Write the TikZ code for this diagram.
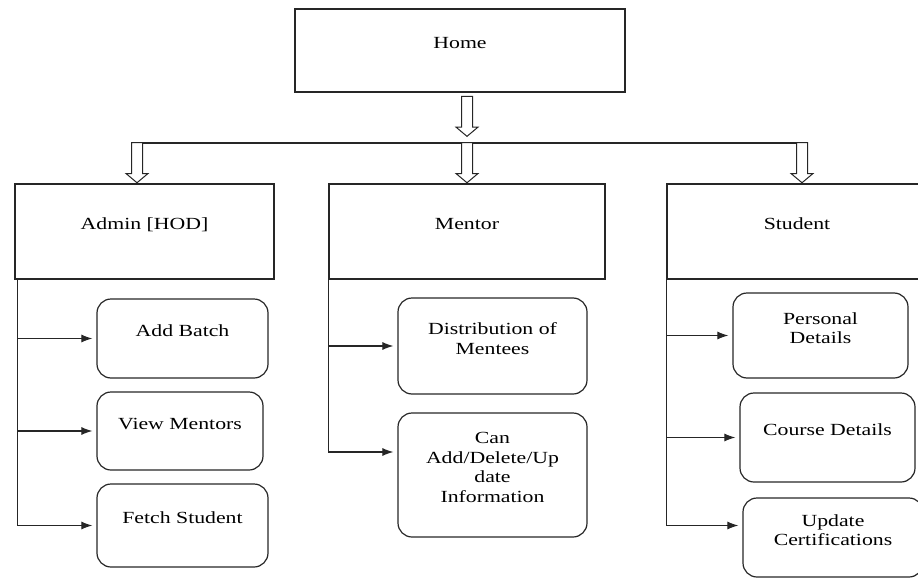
\documentclass[tikz,border=0pt]{standalone}
\usepackage{fontspec}
\setmainfont[FakeStretch=1.28]{Liberation Serif}
\usepackage{tikz}
\usetikzlibrary{shapes, shapes.arrows, arrows.meta, positioning}

\begin{document}
\begin{tikzpicture}[x=1pt, y=-1pt,
        box/.style={draw=black!85, line width=1.2pt, align=center, inner sep=2pt,
            font=\fontsize{17}{19.5}\selectfont,
            execute at end node={\rule[-15pt]{0pt}{15pt}}},
        rbox/.style={box, rounded corners=14pt},
        hollow/.style={single arrow, draw=black!85, line width=1pt, fill=white,
            shape border rotate=270, minimum height=40, inner sep=5pt,
            single arrow head extend=5.5pt, single arrow tip angle=100},
        link/.style={draw=black!85, line width=1.1pt},
        arr/.style={link, -{Latex[length=11pt, width=8pt]}, shorten >=4pt}]
        \path[use as bounding box, clip] (0, 0) rectangle (918, 578);

        % top level
        \node[box, minimum width=330, minimum height=83] (home) at (460, 50.5) {Home};

        \node[box, minimum width=259, minimum height=95] (admin) at (144.5, 231.5) {Admin [HOD]};
        \node[box, minimum width=276, minimum height=95] (mentor) at (467, 231.5) {Mentor};
        \node[box, minimum width=260, minimum height=95] (student) at (797, 231.5) {Student};

        % admin side
        \node[rbox, minimum width=171, minimum height=79] (addbatch) at (182.5, 338.5) {Add Batch};
        \node[rbox, minimum width=166, minimum height=78] (viewmentors) at (180, 431) {View Mentors};
        \node[rbox, minimum width=171, minimum height=83] (fetch) at (182.5, 525.5) {Fetch Student};

        % mentor side
        \node[rbox, minimum width=189, minimum height=96] (distrib) at (492.5, 346) {Distribution of\\Mentees};
        \node[rbox, minimum width=189, minimum height=124] (canadd) at (492.5, 475) {Can\\Add/Delete/Up\\date\\Information};

        % student side
        \node[rbox, minimum width=175, minimum height=85] (personal) at (820.5, 335.5) {Personal\\Details};
        \node[rbox, minimum width=175, minimum height=89] (course) at (827.5, 437.5) {Course Details};
        \node[rbox, minimum width=180, minimum height=79] (update) at (833, 537.5) {Update\\Certifications};

        % hollow arrows
        \coordinate (bar-west) at (137, 143);
        \coordinate (bar-east) at (802, 143);
        \draw[link] (bar-west) -- (bar-east);

        \node[hollow, anchor=tip] (down-home) at (467, 137) {};
        \node[hollow, anchor=tip] (down-admin) at (bar-west |- admin.north) {};
        \node[hollow, anchor=tip] (down-mentor) at (mentor.north) {};
        \node[hollow, anchor=tip] (down-student) at (bar-east |- student.north) {};

        % rails
        \coordinate (admin-rail) at ([xshift=3pt]admin.south west);
        \draw[arr] (admin-rail) |- (fetch.west);
        \draw[arr] (admin-rail |- addbatch.west) -- (addbatch.west);
        \draw[arr] (admin-rail |- viewmentors.west) -- (viewmentors.west);

        \draw[arr] (mentor.south west) |- ([yshift=23pt]canadd.west);
        \draw[arr] (mentor.south west |- distrib.west) -- (distrib.west);

        \draw[arr] (student.south west) |- ([yshift=12pt]update.west);
        \draw[arr] (student.south west |- personal.west) -- (personal.west);
        \draw[arr] (student.south west |- course.west) -- (course.west);
\end{tikzpicture}
\end{document}
